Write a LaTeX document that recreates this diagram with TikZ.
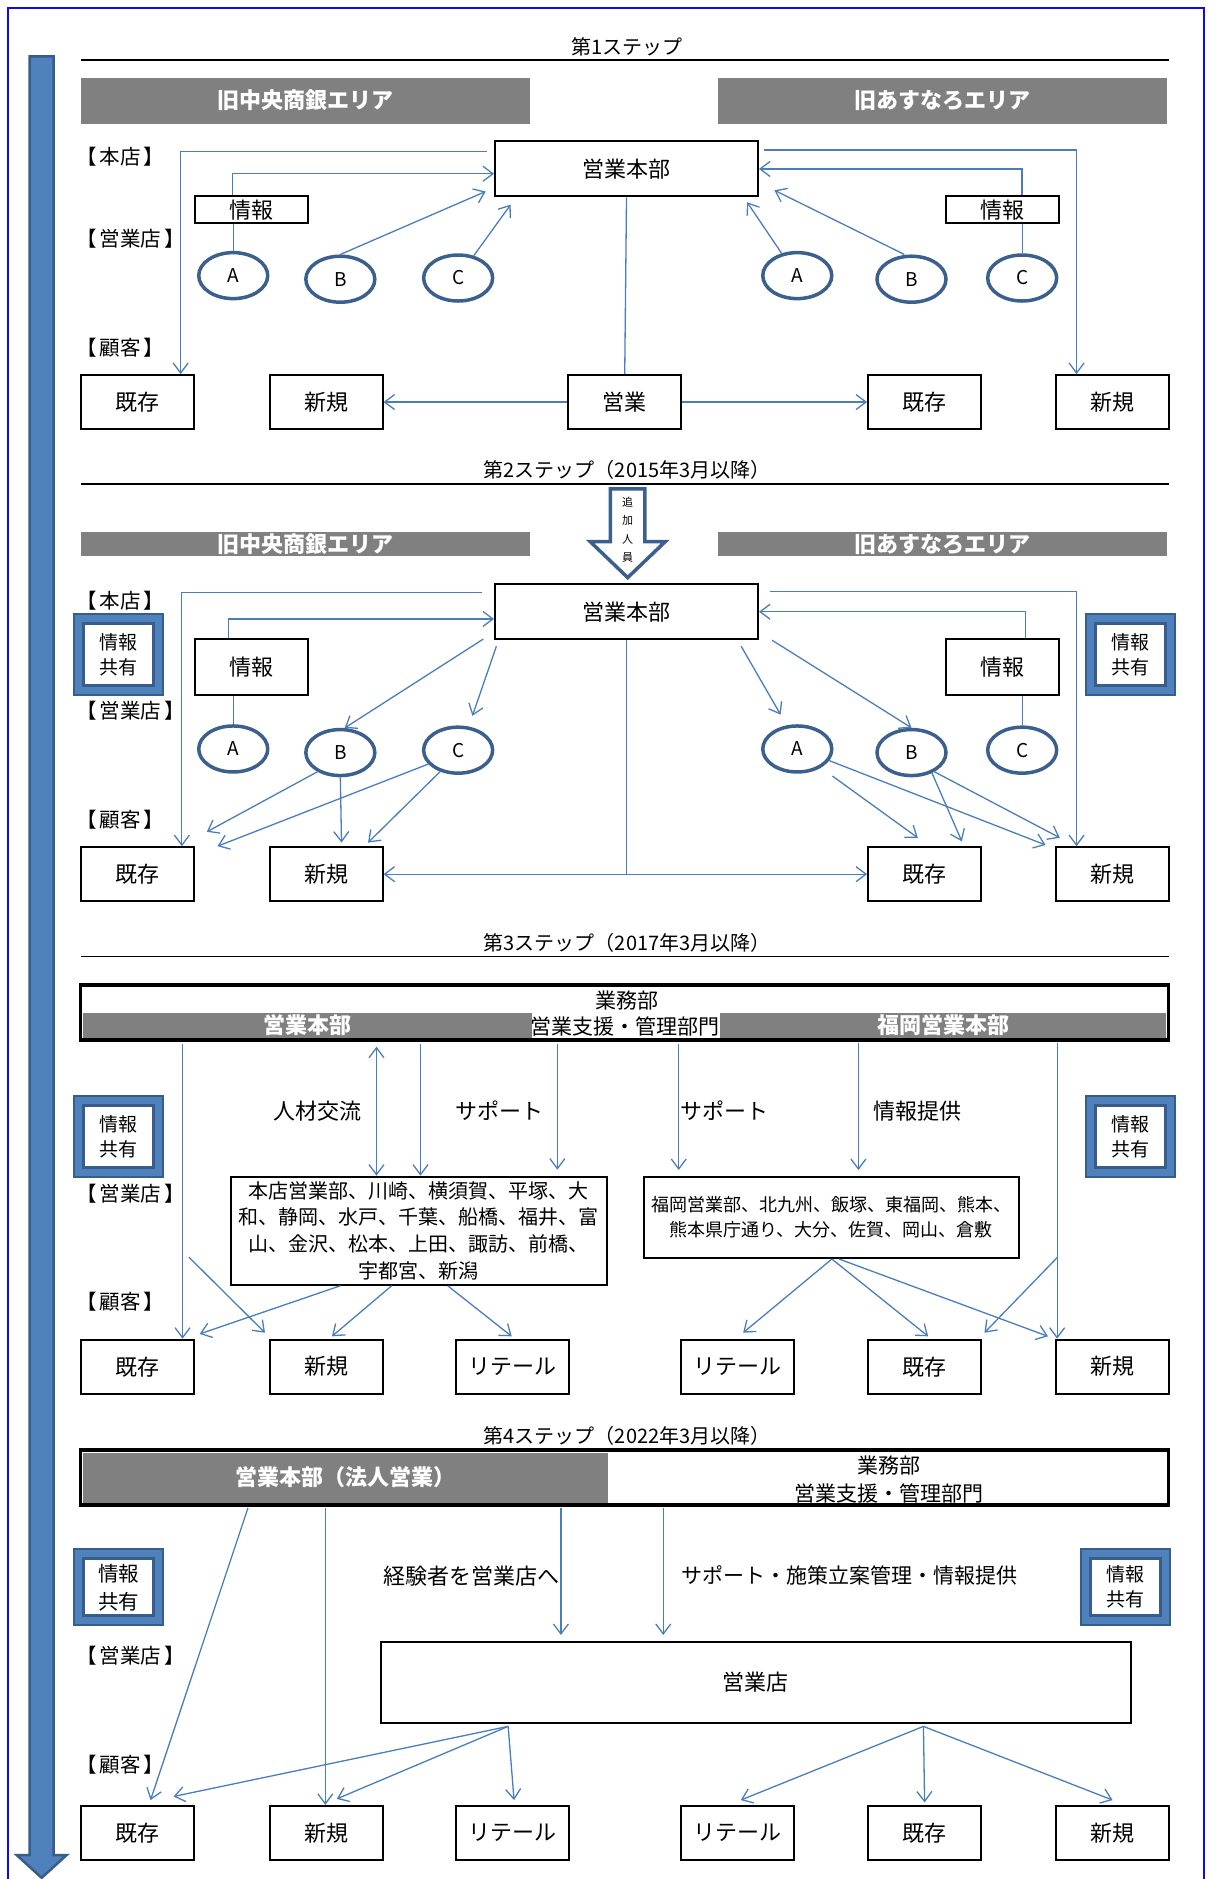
\documentclass[tikz,border=0pt]{standalone}
\usepackage{fontspec}
\setmainfont{Noto Sans CJK JP}
\usepackage{xcolor}
\usepackage{tikz}
\usetikzlibrary{arrows.meta,shapes.geometric,calc}
\definecolor{linkblue}{RGB}{74,126,187}
\definecolor{ringblue}{RGB}{60,96,142}
\definecolor{fillblue}{RGB}{79,129,189}
\definecolor{edgeblue}{RGB}{56,93,138}
\definecolor{bargray}{RGB}{128,128,128}
\definecolor{pageblue}{RGB}{12,12,235}
\newcommand{\fs}[2]{\fontsize{#1}{#2}\selectfont}
\newcommand{\lvltext}[1]{【\hspace{3pt}#1\hspace{3pt}】}

\begin{document}
\begin{tikzpicture}[x=1.19pt, y=-1.1984pt,
    barb/.tip={Straight Barb[length=10pt,width=15pt]},
    conn/.style={draw=linkblue, line width=1.3pt, -barb},
    link/.style={draw=linkblue, line width=1.3pt},
    steptitle/.style={inner sep=0pt, font=\fs{20}{22}},
    rule/.style={line width=1.5pt},
    area/.style={fill=bargray, text=white, inner sep=0pt, minimum width=449pt, font=\bfseries\fs{22}{24}},
    lvl/.style={anchor=west, inner sep=0pt, font=\fs{20.5}{22}},
    hqbox/.style={draw, line width=2pt, fill=white, inner sep=0pt, minimum width=263pt, minimum height=55pt, font=\fs{22}{24}},
    infobox/.style={draw, line width=2pt, fill=white, inner sep=0pt, minimum width=113pt, font=\fs{22}{24}},
    cbox/.style={draw, line width=2pt, fill=white, inner sep=0pt, minimum width=113pt, minimum height=54pt, font=\fs{22}{24}},
    oval/.style={ellipse, draw=ringblue, line width=3.5pt, fill=white, inner sep=0pt, minimum width=69pt, minimum height=46pt, font=\fs{19}{20}},
    sharebox/.style={draw=edgeblue, line width=3pt, fill=white, inner sep=0pt, minimum width=70pt, minimum height=62pt, align=center, font=\fs{19}{25},
        preaction={draw=edgeblue, line width=21pt},
        preaction={draw=fillblue, line width=17pt}},
    bigbar/.style={draw, line width=3.5pt, fill=white, inner sep=0pt, minimum width=1088pt, minimum height=55pt},
    shopbox/.style={draw, line width=2pt, fill=white, inner sep=0pt, align=center},
    midtext/.style={inner sep=0pt, font=\fs{22}{24}}
]
    % Frame and time arrow
    \useasboundingbox (0,0) rectangle (1020,1568);
    \draw[pageblue, line width=2pt] (7,7) rectangle (1012,1600);
    \draw[draw=edgeblue, fill=fillblue, line width=2.5pt] (25,47) -- (45,47) -- (45,1548) -- (56,1548) -- (35,1567) -- (14,1548) -- (25,1548) -- cycle;

    % Step 1
    \node[steptitle] (t1) at (527,39) {第1ステップ};
    \draw[rule] (68,50) -- (982,50);
    \node[area, minimum height=46pt] (arL1) at (256.5,84) {旧中央商銀エリア};
    \node[area, minimum height=46pt] (arR1) at (792,84) {旧あすなろエリア};
    \node[lvl] (hon1) at (64,131) {\lvltext{本店}};
    \node[lvl] (eig1) at (64,199) {\lvltext{営業店}};
    \node[lvl] (kok1) at (64,290) {\lvltext{顧客}};
    \node[hqbox] (hq1) at (526.5,141) {営業本部};
    \node[infobox, minimum height=27pt] (inL1) at (211.5,175) {情報};
    \node[infobox, minimum height=27pt] (inR1) at (842.5,175) {情報};
    \node[oval] (A1) at (196,230) {A};
    \node[oval] (B1) at (286,233) {B};
    \node[oval] (C1) at (385,232) {C};
    \node[oval] (AR1) at (670,230) {A};
    \node[oval] (BR1) at (766,233) {B};
    \node[oval] (CR1) at (859,232) {C};
    \node[cbox] (ex1) at (115.5,335.5) {既存};
    \node[cbox] (nw1) at (274,335.5) {新規};
    \node[cbox] (sl1) at (525,335.5) {営業};
    \node[cbox] (exR1) at (777,335.5) {既存};
    \node[cbox] (nwR1) at (935,335.5) {新規};

    \draw[conn] ($(hq1.north west)+(-6,9)$) -| ($(ex1.north east)+(-12,0)$);
    \draw[conn] ($(inL1.north west)+(32,0)$) |- ($(hq1.west)+(0,4)$);
    \draw[link] (A1.north) -- (A1.north |- inL1.south);
    \draw[conn] (B1.north) -- ($(hq1.south west)+(-7,-5)$);
    \draw[conn] (C1.55) -- ($(hq1.south west)+(14,6)$);
    \draw[link] (hq1.south) -- (sl1.north);
    \draw[conn] (sl1.west) -- (nw1.east);
    \draw[conn] (sl1.east) -- (exR1.west);
    \draw[conn] ($(hq1.north east)+(4,8)$) -| ($(nwR1.north west)+(18,0)$);
    \draw[conn] ($(inR1.north east)+(-32,0)$) |- (hq1.east);
    \draw[link] (CR1.north) -- (CR1.north |- inR1.south);
    \draw[conn] ($(BR1.north)+(-6,0)$) -- ($(hq1.south east)+(13,-6)$);
    \draw[conn] (AR1.125) -- ($(hq1.south east)+(-10,4)$);

    % Step 2
    \node[steptitle] (t2) at (527,392) {第2ステップ（2015年3月以降）};
    \draw[rule] (68,404) -- (982,404);
    \draw[draw=ringblue, fill=white, line width=3.5pt] (513,408) -- (542,408) -- (542,452) -- (559,452) -- (527.5,482) -- (496,452) -- (513,452) -- cycle;
    \node[align=center, inner sep=0pt, font=\fs{11}{18.5}] (add2) at (527.5,442) {追\\加\\人\\員};
    \node[area, minimum height=24pt] (arL2) at (256.5,454) {旧中央商銀エリア};
    \node[area, minimum height=24pt] (arR2) at (792,454) {旧あすなろエリア};
    \node[lvl] (hon2) at (64,501) {\lvltext{本店}};
    \node[lvl] (eig2) at (64,593) {\lvltext{営業店}};
    \node[lvl] (kok2) at (64,684) {\lvltext{顧客}};
    \node[sharebox] (shL2) at (100,546) {情報\\共有};
    \node[sharebox] (shR2) at (950,546) {情報\\共有};
    \node[hqbox] (hq2) at (526.5,510.5) {営業本部};
    \node[infobox, minimum height=56pt] (inL2) at (211.5,556.5) {情報};
    \node[infobox, minimum height=56pt] (inR2) at (842.5,556.5) {情報};
    \node[oval] (A2) at (196,625) {A};
    \node[oval] (B2) at (286,628) {B};
    \node[oval] (C2) at (385,626) {C};
    \node[oval] (AR2) at (670,625) {A};
    \node[oval] (BR2) at (766,628) {B};
    \node[oval] (CR2) at (859,626) {C};
    \node[cbox] (ex2) at (115.5,729.5) {既存};
    \node[cbox] (nw2) at (274,729.5) {新規};
    \node[cbox] (exR2) at (777,729.5) {既存};
    \node[cbox] (nwR2) at (935,729.5) {新規};

    \draw[conn] ($(hq2.north west)+(-10,8)$) -| ($(ex2.north east)+(-11,0)$);
    \draw[conn] ($(inL2.north west)+(29,0)$) |- ($(hq2.west)+(0,6)$);
    \draw[link] (A2.north) -- (A2.north |- inL2.south);
    \draw[conn] ($(hq2.south west)+(-9,-1)$) -- (B2.80);
    \draw[conn] ($(hq2.south west)+(2,5)$) -- ($(C2.north)+(12,-8)$);
    \draw[conn] (B2.220) -- ($(ex2.north east)+(10,-12)$);
    \draw[conn] (C2.205) -- ($(ex2.north east)+(19,0)$);
    \draw[conn] (B2.south) -- ($(nw2.north)+(13,-3)$);
    \draw[conn] (C2.230) -- ($(nw2.north east)+(-13,-3)$);
    \draw[conn] ($(hq2.north east)+(9,7)$) -| ($(nwR2.north west)+(18,0)$);
    \draw[conn] ($(inR2.north east)+(-29,0)$) |- (hq2.east);
    \draw[link] (CR2.north) -- (CR2.north |- inR2.south);
    \draw[conn] ($(hq2.south east)+(-15,5)$) -- ($(AR2.north)+(-14,-8)$);
    \draw[conn] ($(hq2.south east)+(11,0)$) -- (BR2.north);
    \draw[conn] ($(AR2.south east)+(8,8)$) -- ($(exR2.north east)+(-54,-7)$);
    \draw[conn] (AR2.-20) -- ($(nwR2.north west)+(-8,-1)$);
    \draw[conn] (BR2.-45) -- ($(exR2.north east)+(-17,-4)$);
    \draw[conn] (BR2.-40) -- ($(nwR2.north west)+(4,-7)$);
    \coordinate (jn2) at (hq2.south |- nw2.east);
    \draw[link] (hq2.south) -- (jn2);
    \draw[conn] (jn2) -- (nw2.east);
    \draw[conn] (jn2) -- (exR2.west);

    % Step 3
    \node[steptitle] (t3) at (527,787) {第3ステップ（2017年3月以降）};
    \draw[rule] (68,798) -- (982,798);
    \node[bigbar] (bx3) at (525,845) {};
    \node[midtext, font=\fs{21}{24}] (gm3) at (527,835) {業務部};
    \node[midtext, font=\fs{21}{24}] (gs3) at (525,857) {営業支援・管理部門};
    \node[area, minimum height=25pt] (hqL3) at (258.5,855.5) {営業本部};
    \node[area, minimum width=446pt, minimum height=25pt] (fkL3) at (792.5,855.5) {福岡営業本部};
    \node[sharebox] (shL3) at (100,948.5) {情報\\共有};
    \node[sharebox] (shR3) at (950,948.5) {情報\\共有};
    \node[lvl] (eig3) at (64,996) {\lvltext{営業店}};
    \node[lvl] (kok3) at (64,1086) {\lvltext{顧客}};
    \node[midtext] (lb31) at (267,927) {人材交流};
    \node[midtext] (lb32) at (420,927) {サポート};
    \node[midtext] (lb33) at (609,927) {サポート};
    \node[midtext] (lb34) at (771,927) {情報提供};
    \node[shopbox, minimum width=376pt, minimum height=108pt, font=\fs{20}{26.7}] (hb3) at (352,1027)
        {本店営業部、川崎、横須賀、平塚、大\\和、静岡、水戸、千葉、船橋、福井、富\\山、金沢、松本、上田、諏訪、前橋、\\宇都宮、新潟};
    \node[shopbox, minimum width=375pt, minimum height=81pt, font=\fs{18}{25}] (fb3) at (698.5,1016)
        {福岡営業部、北九州、飯塚、東福岡、熊本、\\熊本県庁通り、大分、佐賀、岡山、倉敷};
    \node[cbox] (ex3) at (115.5,1140.5) {既存};
    \node[cbox] (nw3) at (274,1140.5) {新規};
    \node[cbox] (rt3) at (431,1140.5) {リテール};
    \node[cbox] (rtR3) at (619.5,1140.5) {リテール};
    \node[cbox] (exR3) at (777,1140.5) {既存};
    \node[cbox] (nwR3) at (935,1140.5) {新規};

    \coordinate (p31) at ($(bx3.south west)+(87,2)$);
    \coordinate (p32) at ($(bx3.south west)+(250,4)$);
    \coordinate (p33) at ($(bx3.south west)+(287,2)$);
    \coordinate (p34) at ($(bx3.south west)+(402,2)$);
    \coordinate (p35) at ($(bx3.south west)+(504,2)$);
    \coordinate (p36) at ($(bx3.south west)+(655,1)$);
    \coordinate (p37) at ($(bx3.south west)+(822,1)$);
    \draw[conn] (p31) -- (p31 |- ex3.north);
    \draw[conn] ($(ex3.north east)+(-5,-68)$) -- ($(nw3.north west)+(-3,-5)$);
    \draw[conn, barb-barb] (p32) -- (p32 |- hb3.north);
    \draw[conn] (p33) -- (p33 |- hb3.north);
    \draw[conn] (p34) -- ($(p34 |- hb3.north)+(0,-5)$);
    \draw[conn] (p35) -- ($(p35 |- fb3.north)+(0,-5)$);
    \draw[conn] (p36) -- ($(p36 |- fb3.north)+(0,-5)$);
    \draw[conn] (p37) -- (p37 |- nwR3.north);
    \draw[conn] ($(nwR3.north west)+(2,-68)$) -- ($(exR3.north east)+(2,-5)$);
    \draw[conn] ($(hb3.south west)+(93,0)$) -- ($(ex3.north east)+(4,-4)$);
    \draw[conn] ($(hb3.south west)+(136,0)$) -- ($(nw3.north)+(5,-2)$);
    \draw[conn] ($(hb3.south west)+(183,0)$) -- ($(rt3.north)+(-1,-2)$);
    \draw[conn] ($(fb3.south west)+(159,0)$) -- ($(rtR3.north)+(5,-5)$);
    \draw[conn] ($(fb3.south west)+(159,0)$) -- ($(exR3.north)+(3,-2)$);
    \draw[conn] ($(fb3.south west)+(165,0)$) -- ($(nwR3.north west)+(-6,-2)$);

    % Step 4
    \node[steptitle] (t4) at (527,1198) {第4ステップ（2022年3月以降）};
    \node[bigbar] (bx4) at (525,1233) {};
    \node[area, minimum width=525pt, minimum height=50pt, font=\bfseries\fs{22}{24}] (hqL4) at (290.5,1233) {営業本部（法人営業）};
    \node[midtext, font=\fs{21}{24}] (gm4) at (747,1223) {業務部};
    \node[midtext, font=\fs{21}{24}] (gs4) at (747,1246) {営業支援・管理部門};
    \node[sharebox, minimum height=57pt, font=\fs{20.5}{28}] (shL4) at (100,1324.5) {情報\\共有};
    \node[sharebox, minimum height=57pt] (shR4) at (946,1324) {情報\\共有};
    \node[lvl] (eig4) at (64,1382) {\lvltext{営業店}};
    \node[lvl] (kok4) at (64,1473) {\lvltext{顧客}};
    \node[midtext] (lb41) at (396,1315) {経験者を営業店へ};
    \node[midtext, font=\fs{21}{24}] (lb42) at (714,1315) {サポート・施策立案管理・情報提供};
    \node[shopbox, minimum width=750pt, minimum height=81pt, font=\fs{22}{24}] (eb4) at (635,1404) {営業店};
    \node[cbox] (ex4) at (115.5,1529.5) {既存};
    \node[cbox] (nw4) at (274,1529.5) {新規};
    \node[cbox] (rt4) at (431,1529.5) {リテール};
    \node[cbox] (rtR4) at (619.5,1529.5) {リテール};
    \node[cbox] (exR4) at (777,1529.5) {既存};
    \node[cbox] (nwR4) at (935,1529.5) {新規};

    \coordinate (p41) at ($(bx4.south west)+(142,1)$);
    \coordinate (p42) at ($(bx4.south west)+(207,1)$);
    \coordinate (p43) at ($(bx4.south west)+(405,1)$);
    \coordinate (p44) at ($(bx4.south west)+(491,1)$);
    \coordinate (q41) at ($(eb4.south west)+(108,2)$);
    \coordinate (q42) at ($(eb4.south west)+(457,2)$);
    \draw[conn] (p41) -- ($(ex4.north)+(11,-4)$);
    \draw[conn] (p42) -- (p42 |- nw4.north);
    \draw[conn] (p43) -- ($(p43 |- eb4.north)+(0,-5)$);
    \draw[conn] (p44) -- ($(p44 |- eb4.north)+(0,-5)$);
    \draw[conn] (q41) -- ($(ex4.north east)+(-18,-7)$);
    \draw[conn] (q41) -- ($(nw4.north)+(9,-5)$);
    \draw[conn] (q41) -- ($(rt4.north)+(1,-4)$);
    \draw[conn] (q42) -- ($(rtR4.north)+(3,-4)$);
    \draw[conn] (q42) -- ($(exR4.north)+(0,-2)$);
    \draw[conn] (q42) -- ($(nwR4.north)+(0,-4)$);
\end{tikzpicture}
\end{document}
